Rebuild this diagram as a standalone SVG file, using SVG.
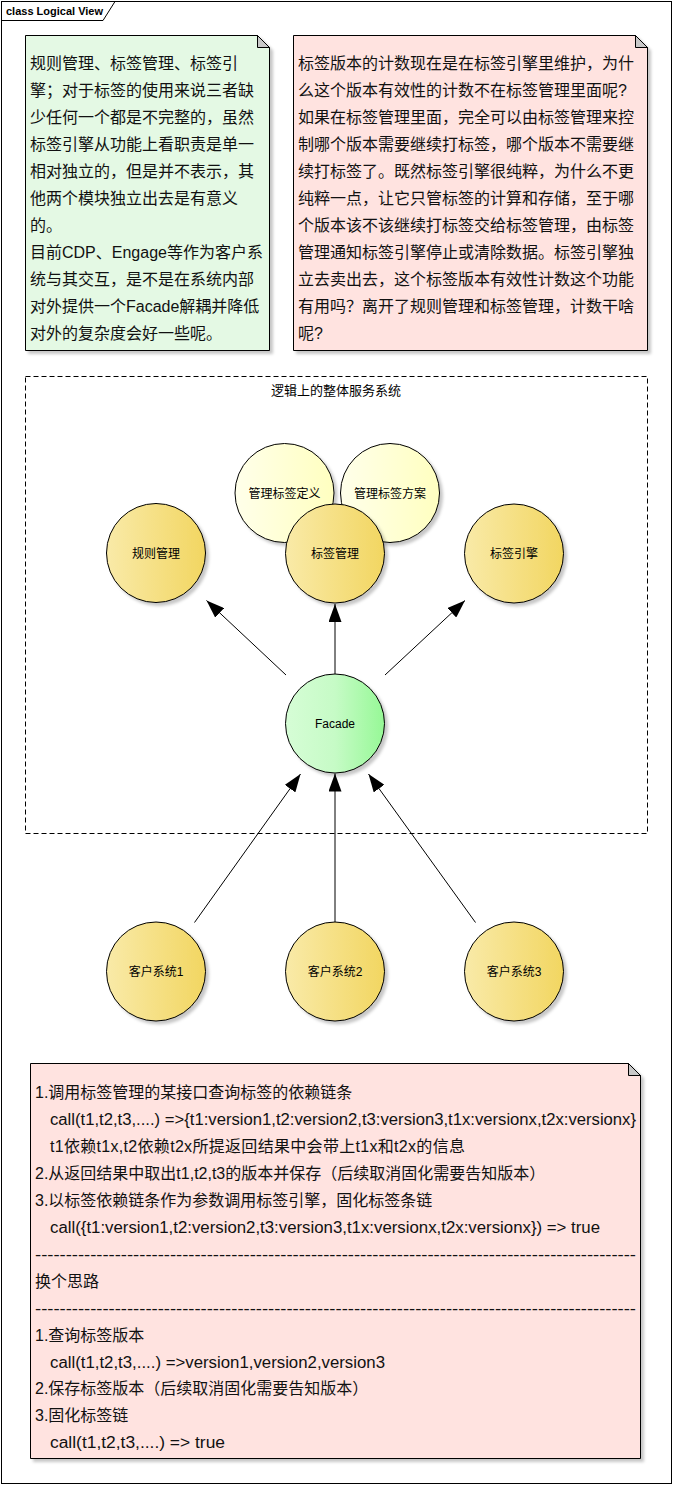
<svg xmlns="http://www.w3.org/2000/svg" width="673" height="1485" viewBox="0 0 673 1485">
<style>
.frame{fill:#fff;stroke:#000;stroke-width:1}
.note-g{fill:#E4F9E4;stroke:#000;stroke-width:1}
.note-p{fill:#FFE3E0;stroke:#000;stroke-width:1}
.fold{fill:#C8C8C8;stroke:#000;stroke-width:1;stroke-linejoin:round}
.nt{font-family:"Liberation Sans","Noto Sans CJK SC",sans-serif;font-size:16px;fill:#111}
.lbl{font-family:"Liberation Sans","Noto Sans CJK SC",sans-serif;font-size:12px;fill:#000;text-anchor:middle}
.bnd{fill:none;stroke:#000;stroke-width:1;stroke-dasharray:5,3}
.circ{stroke:#000;stroke-width:1}
.y{fill:url(#gY)}
.ly{fill:url(#gLY)}
.gr{fill:url(#gG)}
.conn line{stroke:#000;stroke-width:1;marker-end:url(#arr)}
</style>
<defs>
<linearGradient id="gY" x1="0" y1="0" x2="1" y2="0">
<stop offset="0" stop-color="#F9EAA8"/><stop offset="1" stop-color="#F2D661"/>
</linearGradient>
<linearGradient id="gLY" x1="0" y1="0" x2="1" y2="0">
<stop offset="0" stop-color="#FFFFEA"/><stop offset="1" stop-color="#FFFFC0"/>
</linearGradient>
<linearGradient id="gG" x1="0" y1="0" x2="1" y2="0">
<stop offset="0" stop-color="#D6FDD6"/><stop offset="0.5" stop-color="#C6FBC6"/><stop offset="1" stop-color="#96F896"/>
</linearGradient>
<filter id="sh" x="-20%" y="-20%" width="140%" height="140%">
<feDropShadow dx="3" dy="3" stdDeviation="1.5" flood-color="#000" flood-opacity="0.22"/>
</filter>
<marker id="arr" markerUnits="userSpaceOnUse" markerWidth="18" markerHeight="13" refX="18" refY="6.5" orient="auto">
<path d="M0,0 L18,6.5 L0,13 z" fill="#000"/>
</marker>
</defs>

<g id="frame">
<rect class="frame" x="1.5" y="1.5" width="670" height="1482"/>
<path d="M1.5,20.5 H103 L115,1.5" fill="none" stroke="#000" stroke-width="1"/>
<text x="6" y="14.5" font-family="Liberation Sans, Arial, sans-serif" font-size="11" font-weight="bold" fill="#000">class Logical View</text>
</g>

<g id="note1">
<path class="note-g" filter="url(#sh)" d="M25.5,35.5 H257.5 L269.5,47.5 V350.5 H25.5 Z"/>
<path class="fold" d="M257.5,35.5 L269.5,47.5 H257.5 Z" stroke="none"/>
<path d="M257.5,35.5 L269.5,47.5" stroke="#000" fill="none"/>
<text class="nt" x="30" y="69">规则管理、标签管理、标签引</text>
<text class="nt" x="30" y="96">擎；对于标签的使用来说三者缺</text>
<text class="nt" x="30" y="123">少任何一个都是不完整的，虽然</text>
<text class="nt" x="30" y="150">标签引擎从功能上看职责是单一</text>
<text class="nt" x="30" y="177">相对独立的，但是并不表示，其</text>
<text class="nt" x="30" y="204">他两个模块独立出去是有意义</text>
<text class="nt" x="30" y="231">的。</text>
<text class="nt" x="30" y="258">目前CDP、Engage等作为客户系</text>
<text class="nt" x="30" y="285">统与其交互，是不是在系统内部</text>
<text class="nt" x="30" y="312">对外提供一个Facade解耦并降低</text>
<text class="nt" x="30" y="339">对外的复杂度会好一些呢。</text>
</g>

<g id="note2">
<path class="note-p" filter="url(#sh)" d="M293.5,35.5 H635.5 L647.5,47.5 V350.5 H293.5 Z"/>
<path class="fold" d="M635.5,35.5 L647.5,47.5 H635.5 Z" stroke="none"/>
<path d="M635.5,35.5 L647.5,47.5" stroke="#000" fill="none"/>
<text class="nt" x="298" y="69">标签版本的计数现在是在标签引擎里维护，为什</text>
<text class="nt" x="298" y="96">么这个版本有效性的计数不在标签管理里面呢?</text>
<text class="nt" x="298" y="123">如果在标签管理里面，完全可以由标签管理来控</text>
<text class="nt" x="298" y="150">制哪个版本需要继续打标签，哪个版本不需要继</text>
<text class="nt" x="298" y="177">续打标签了。既然标签引擎很纯粹，为什么不更</text>
<text class="nt" x="298" y="204">纯粹一点，让它只管标签的计算和存储，至于哪</text>
<text class="nt" x="298" y="231">个版本该不该继续打标签交给标签管理，由标签</text>
<text class="nt" x="298" y="258">管理通知标签引擎停止或清除数据。标签引擎独</text>
<text class="nt" x="298" y="285">立去卖出去，这个标签版本有效性计数这个功能</text>
<text class="nt" x="298" y="312">有用吗？离开了规则管理和标签管理，计数干啥</text>
<text class="nt" x="298" y="339">呢?</text>
</g>

<g id="boundary">
<rect class="bnd" x="25.5" y="376.5" width="622" height="457"/>
<text x="336" y="395" font-family="Liberation Sans, 'Noto Sans CJK SC', sans-serif" font-size="13" text-anchor="middle" fill="#000">逻辑上的整体服务系统</text>
</g>

<g id="n-dingyi">
<circle class="circ ly" filter="url(#sh)" cx="284.5" cy="493" r="49.5"/>
<text class="lbl" x="284.5" y="497.5">管理标签定义</text>
</g>
<g id="n-fangan">
<circle class="circ ly" filter="url(#sh)" cx="390" cy="493" r="49.5"/>
<text class="lbl" x="390" y="497.5">管理标签方案</text>
</g>
<g id="n-guize">
<circle class="circ y" filter="url(#sh)" cx="156" cy="553" r="49.5"/>
<text class="lbl" x="156" y="557.5">规则管理</text>
</g>
<g id="n-biaoqian">
<circle class="circ y" filter="url(#sh)" cx="335" cy="553.5" r="49.5"/>
<text class="lbl" x="335" y="558">标签管理</text>
</g>
<g id="n-yinqing">
<circle class="circ y" filter="url(#sh)" cx="514" cy="553.5" r="49.5"/>
<text class="lbl" x="514" y="558">标签引擎</text>
</g>
<g id="n-facade">
<circle class="circ gr" filter="url(#sh)" cx="335" cy="723.5" r="49.5"/>
<text class="lbl" x="335" y="728">Facade</text>
</g>
<g id="n-c1">
<circle class="circ y" filter="url(#sh)" cx="156" cy="971.5" r="49.5"/>
<text class="lbl" x="156" y="976">客户系统1</text>
</g>
<g id="n-c2">
<circle class="circ y" filter="url(#sh)" cx="335" cy="971.5" r="49.5"/>
<text class="lbl" x="335" y="976">客户系统2</text>
</g>
<g id="n-c3">
<circle class="circ y" filter="url(#sh)" cx="514" cy="971.5" r="49.5"/>
<text class="lbl" x="514" y="976">客户系统3</text>
</g>

<g id="connectors" class="conn">
<line x1="286" y1="675" x2="206.5" y2="600.5"/>
<line x1="335" y1="674" x2="335" y2="604"/>
<line x1="385" y1="675" x2="465" y2="600.5"/>
<line x1="194.5" y1="922.5" x2="300.5" y2="774"/>
<line x1="335" y1="922" x2="335" y2="773.5"/>
<line x1="475.5" y1="922.5" x2="368.5" y2="774"/>
</g>

<g id="note3">
<path class="note-p" filter="url(#sh)" d="M30.5,1063.5 H628.5 L640.5,1075.5 V1458.5 H30.5 Z"/>
<path class="fold" d="M628.5,1063.5 L640.5,1075.5 H628.5 Z" stroke="none"/>
<path d="M628.5,1063.5 L640.5,1075.5" stroke="#000" fill="none"/>
<text class="nt" x="35" y="1098.3">1.调用标签管理的某接口查询标签的依赖链条</text>
<text class="nt" x="50" y="1125.2" textLength="586" lengthAdjust="spacingAndGlyphs">call(t1,t2,t3,....) =&gt;{t1:version1,t2:version2,t3:version3,t1x:versionx,t2x:versionx}</text>
<text class="nt" x="50" y="1152.1" textLength="415" lengthAdjust="spacing">t1依赖t1x,t2依赖t2x所提返回结果中会带上t1x和t2x的信息</text>
<text class="nt" x="35" y="1179.1">2.从返回结果中取出t1,t2,t3的版本并保存（后续取消固化需要告知版本）</text>
<text class="nt" x="35" y="1206">3.以标签依赖链条作为参数调用标签引擎，固化标签条链</text>
<text class="nt" x="50" y="1232.9" textLength="550" lengthAdjust="spacingAndGlyphs">call({t1:version1,t2:version2,t3:version3,t1x:versionx,t2x:versionx}) =&gt; true</text>
<text class="nt" x="35" y="1259.8" textLength="601" lengthAdjust="spacingAndGlyphs">--------------------------------------------------------------------------------------------------</text>
<text class="nt" x="35" y="1286.7">换个思路</text>
<text class="nt" x="35" y="1313.7" textLength="601" lengthAdjust="spacingAndGlyphs">--------------------------------------------------------------------------------------------------</text>
<text class="nt" x="35" y="1340.6">1.查询标签版本</text>
<text class="nt" x="50" y="1367.5" textLength="335" lengthAdjust="spacingAndGlyphs">call(t1,t2,t3,....) =&gt;version1,version2,version3</text>
<text class="nt" x="35" y="1394.4">2.保存标签版本（后续取消固化需要告知版本）</text>
<text class="nt" x="35" y="1421.3">3.固化标签链</text>
<text class="nt" x="50" y="1448.3" textLength="175" lengthAdjust="spacingAndGlyphs">call(t1,t2,t3,....) =&gt; true</text>
</g>
</svg>
